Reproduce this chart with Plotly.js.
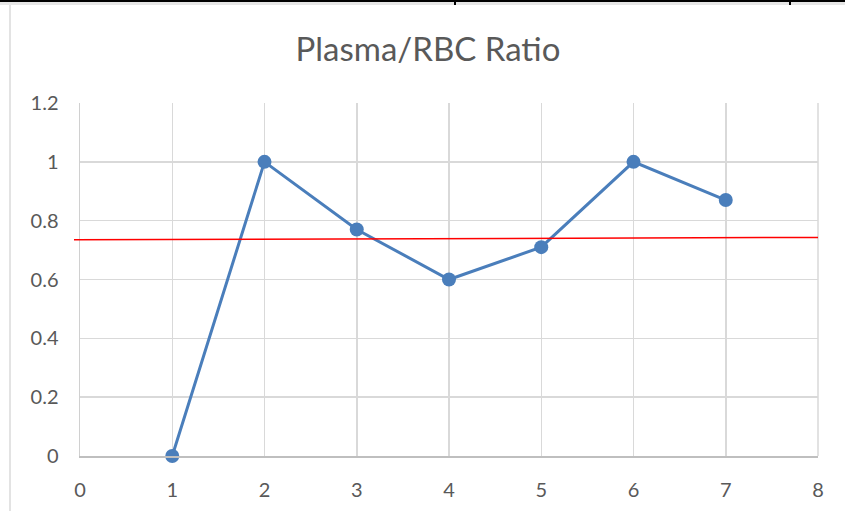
<!DOCTYPE html>
<html><head><meta charset="utf-8">
<script src="https://cdn.plot.ly/plotly-3.0.1.min.js"></script>
<style>
html,body{margin:0;padding:0;background:#fff;}
#wrap{position:relative;width:845px;height:511px;overflow:hidden;}
#chart{position:absolute;left:0;top:0;width:845px;height:511px;}
.ln{position:absolute;}
</style></head>
<body><div id="wrap">
<div id="chart"></div>
<div class="ln" style="left:0;top:0;width:845px;height:2px;background:#000;"></div>
<div class="ln" style="left:0;top:2px;width:845px;height:3px;background:#e6e6e6;"></div>
<div class="ln" style="left:454px;top:0;width:2px;height:5px;background:#000;"></div>
<div class="ln" style="left:789px;top:0;width:2px;height:5px;background:#000;"></div>
<div class="ln" style="left:9px;top:5px;width:2px;height:506px;background:#e3e3e3;"></div>
</div>
<script>
const sampleX = [1, 2, 3, 4, 5, 6, 7];
const ratioY = [0, 1, 0.77, 0.6, 0.71, 1, 0.87];
const refLineY = [0.735, 0.743];
const xTicks = [0, 1, 2, 3, 4, 5, 6, 7, 8];
const yTicks = [0, 0.2, 0.4, 0.6, 0.8, 1, 1.2];
const yTickText = ['0', '0.2', '0.4', '0.6', '0.8', '1', '1.2'];

const font = "Lato, 'Open Sans', sans-serif";
const trace = {
  x: sampleX, y: ratioY, type: 'scatter', mode: 'lines+markers',
  line: {color: '#4a7ebb', width: 3},
  marker: {color: '#4a7ebb', size: 14},
  cliponaxis: false,
  hoverinfo: 'none', showlegend: false
};
const layout = {
  width: 845, height: 511,
  margin: {l: 80, r: 27, t: 103, b: 55},
  paper_bgcolor: 'rgba(0,0,0,0)', plot_bgcolor: '#fff',
  title: {text: 'Plasma/RBC Ratio', font: {family: font, size: 33, color: '#595959'}, x: (428 - 80) / 738, xanchor: 'center', y: 1 - 49/511, yanchor: 'middle', xref: 'paper'},
  xaxis: {range: [0, 8], tickvals: xTicks, ticktext: xTicks.map(String), showgrid: true, gridcolor: '#d9d9d9', gridwidth: 1.5,
    zeroline: false, showline: true, linecolor: '#bfbfbf', linewidth: 1.5, mirror: false, ticks: '', ticklabelstandoff: 15,
    tickfont: {family: font, size: 20, color: '#595959'}},
  yaxis: {range: [0, 1.2], tickvals: yTicks, ticktext: yTickText, showgrid: true, gridcolor: '#d9d9d9', gridwidth: 1.5,
    zeroline: false, showline: true, linecolor: '#d0d0d0', linewidth: 1.5, ticks: '', ticklabelstandoff: 16,
    tickfont: {family: font, size: 20, color: '#595959'}},
  shapes: [
    {type: 'line', xref: 'paper', yref: 'y', x0: 1, x1: 1, y0: 0, y1: 1.2, line: {color: '#d9d9d9', width: 1.5}, layer: 'below'},
    {type: 'line', xref: 'paper', yref: 'y', x0: -6/738, x1: 1, y0: refLineY[0], y1: refLineY[1], line: {color: '#ff0000', width: 1.5}, layer: 'above'}
  ]
};
Plotly.newPlot('chart', [trace], layout, {staticPlot: true, displayModeBar: false});
</script>
</body></html>
